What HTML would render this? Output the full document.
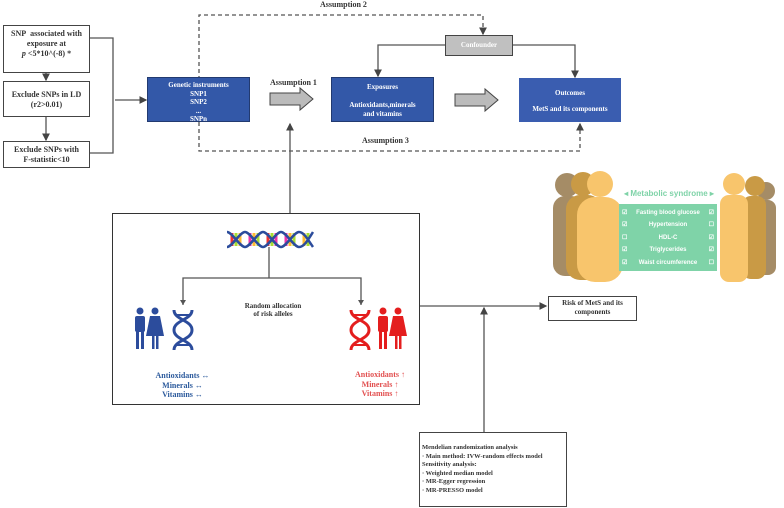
<!DOCTYPE html>
<html><head><style>
body{margin:0;width:784px;height:508px;background:#fff;position:relative;overflow:hidden;font-family:"Liberation Serif",serif;font-weight:bold}
.b{position:absolute;box-sizing:border-box;text-align:center;font-size:8px;line-height:10px}
.w{border:1.5px solid #444;background:#fff;color:#333}
.bl{background:#3358a8;border:1.5px solid #223a70;color:#fff}
.t{position:absolute;font-size:8px;color:#333}
</style></head><body>
<svg width="784" height="508" style="position:absolute;left:0;top:0">
<defs><marker id="a" markerWidth="6" markerHeight="6" refX="5" refY="3" orient="auto"><path d="M0,0L6,3L0,6z" fill="#444"/></marker></defs>
<g stroke="#555" stroke-width="1.3" fill="none">
<line x1="46" y1="73" x2="46" y2="80" marker-end="url(#a)"/>
<line x1="46" y1="117" x2="46" y2="140" marker-end="url(#a)"/>
<polyline points="90,38 113,38 113,153 90,153"/>
<line x1="115" y1="100" x2="146" y2="100" marker-end="url(#a)"/>
<polyline points="445,45 378,45 378,76" marker-end="url(#a)"/>
<polyline points="513,45 575,45 575,77" marker-end="url(#a)"/>
<g stroke-dasharray="4,3"><polyline points="199,122 199,15 483,15 483,34" marker-end="url(#a)"/>
<polyline points="199,122 199,151 580,151 580,124" marker-end="url(#a)"/></g>
<line x1="290" y1="213" x2="290" y2="124" marker-end="url(#a)"/>
<line x1="269" y1="247" x2="269" y2="278"/>
<polyline points="183,305 183,278 361,278 361,305"/>
<line x1="420" y1="306" x2="546" y2="306" marker-end="url(#a)"/>
<line x1="484" y1="432" x2="484" y2="308" marker-end="url(#a)"/>
</g>
<path d="M183,305l-3,-5h6z M361,305l-3,-5h6z" fill="#555"/>
<path d="M270,93h30v-5l13,11l-13,11v-5h-30z" fill="#bbb" stroke="#444" stroke-width="1"/>
<path d="M455,94h30v-5l13,11l-13,11v-5h-30z" fill="#bbb" stroke="#444" stroke-width="1"/>
<!-- DNA top -->
<g>
<g stroke-width="3">
<line x1="232" y1="233" x2="232" y2="246" stroke="#e33"/><line x1="236" y1="233" x2="236" y2="246" stroke="#ad3"/><line x1="240" y1="233" x2="240" y2="246" stroke="#fb3"/>
<line x1="250" y1="233" x2="250" y2="246" stroke="#e3a"/><line x1="254" y1="233" x2="254" y2="246" stroke="#fb3"/><line x1="258" y1="233" x2="258" y2="246" stroke="#ad3"/>
<line x1="268" y1="233" x2="268" y2="246" stroke="#e33"/><line x1="272" y1="233" x2="272" y2="246" stroke="#ad3"/><line x1="276" y1="233" x2="276" y2="246" stroke="#e3a"/>
<line x1="286" y1="233" x2="286" y2="246" stroke="#e3a"/><line x1="290" y1="233" x2="290" y2="246" stroke="#fb3"/><line x1="294" y1="233" x2="294" y2="246" stroke="#ad3"/>
<line x1="304" y1="233" x2="304" y2="246" stroke="#fb3"/><line x1="308" y1="233" x2="308" y2="246" stroke="#ad3"/></g>
<path d="M227,232 C232,232 240,247 245,247 C250,247 258,232 263,232 C268,232 276,247 281,247 C286,247 294,232 299,232 C304,232 308,240 313,247" stroke="#2c4c9c" stroke-width="2.5" fill="none"/>
<path d="M227,247 C232,247 240,232 245,232 C250,232 258,247 263,247 C268,247 276,232 281,232 C286,232 294,247 299,247 C304,247 308,240 313,232" stroke="#2c4c9c" stroke-width="2.5" fill="none"/>
</g>
<!-- blue dna & people -->
<g stroke="#2c4c9c" stroke-width="3" fill="none"><path d="M174,310 C174,320 192,320 192,330 C192,340 174,340 174,350 M192,310 C192,320 174,320 174,330 C174,340 192,340 192,350"/></g>
<g stroke="#2c4c9c" stroke-width="2"><line x1="176" y1="315" x2="190" y2="315"/><line x1="176" y1="345" x2="190" y2="345"/></g>
<g fill="#2c4c9c"><circle cx="140" cy="311" r="3.5"/><rect x="135" y="316" width="10" height="16" rx="2"/><rect x="136" y="330" width="3" height="19"/><rect x="141" y="330" width="3" height="19"/>
<circle cx="155" cy="311" r="3.5"/><path d="M150,316h10l4,20h-18z"/><rect x="152" y="334" width="2.5" height="15"/><rect x="156" y="334" width="2.5" height="15"/></g>
<g stroke="#e41e1e" stroke-width="3" fill="none"><path d="M351,310 C351,320 369,320 369,330 C369,340 351,340 351,350 M369,310 C369,320 351,320 351,330 C351,340 369,340 369,350"/></g>
<g stroke="#e41e1e" stroke-width="2"><line x1="353" y1="315" x2="367" y2="315"/><line x1="353" y1="345" x2="367" y2="345"/></g>
<g fill="#e41e1e"><circle cx="383" cy="311" r="3.5"/><rect x="378" y="316" width="10" height="16" rx="2"/><rect x="379" y="330" width="3" height="19"/><rect x="384" y="330" width="3" height="19"/>
<circle cx="398" cy="311" r="3.5"/><path d="M393,316h10l4,20h-18z"/><rect x="395" y="334" width="2.5" height="15"/><rect x="399" y="334" width="2.5" height="15"/></g>
<!-- people right panel -->
<g fill="#a58c66"><circle cx="567" cy="185" r="12"/><rect x="553" y="196" width="30" height="80" rx="12"/></g>
<g fill="#c99a45"><circle cx="583" cy="184" r="12"/><rect x="566" y="195" width="36" height="85" rx="14"/></g>
<g fill="#f8c56c"><circle cx="600" cy="184" r="13"/><rect x="577" y="197" width="46" height="85" rx="18"/></g>
<g fill="#a58c66"><circle cx="766" cy="191" r="9"/><rect x="756" y="200" width="20" height="75" rx="8"/></g>
<g fill="#c99a45"><circle cx="755" cy="186" r="10"/><rect x="742" y="196" width="24" height="83" rx="9"/></g>
<g fill="#f8c56c"><circle cx="734" cy="184" r="11"/><rect x="720" y="195" width="28" height="87" rx="9"/></g>
<rect x="619" y="204" width="98" height="67" fill="#7fd3a8"/>
</svg>
<div class="b w" style="left:3px;top:25px;width:87px;height:48px;padding-top:3px">SNP&nbsp; associated with exposure at<br><i>p</i> &lt;5*10^(-8) *</div>
<div class="b w" style="left:3px;top:81px;width:87px;height:36px;padding-top:8px">Exclude SNPs in LD<br>(r2&gt;0.01)</div>
<div class="b w" style="left:3px;top:141px;width:87px;height:27px;padding-top:3px">Exclude SNPs with<br>F-statistic&lt;10</div>
<div class="b bl" style="left:147px;top:77px;width:103px;height:45px;padding-top:3px;font-size:7px;line-height:8.5px">Genetic instruments<br>SNP1<br>SNP2<br>...<br>SNPn</div>
<div class="b bl" style="left:331px;top:77px;width:103px;height:45px;padding-top:5px;font-size:7px;line-height:9px">Exposures<br><br>Antioxidants,minerals<br>and vitamins</div>
<div class="b bl" style="left:519px;top:78px;width:102px;height:44px;padding-top:10px;font-size:7px;line-height:8px;background:#3a5db0;border-color:#3a5db0">Outcomes<br><br>MetS and its components</div>
<div class="b" style="left:445px;top:35px;width:68px;height:21px;background:#c0c0c0;border:1.5px solid #444;color:#fff;font-size:7px;padding-top:4px">Confounder</div>
<div class="t" style="left:320px;top:0px">Assumption 2</div>
<div class="t" style="left:270px;top:78px">Assumption 1</div>
<div class="t" style="left:362px;top:136px">Assumption 3</div>
<div class="b" style="left:112px;top:213px;width:308px;height:192px;border:1.5px solid #333"></div>
<div class="b" style="left:233px;top:302px;width:80px;font-size:7px;line-height:8px;color:#333">Random allocation<br>of risk alleles</div>
<div class="b" style="left:130px;top:371px;width:105px;color:#2c5a9c;line-height:9.5px">Antioxidants ↔<br>Minerals ↔<br>Vitamins ↔</div>
<div class="b" style="left:330px;top:370px;width:100px;color:#e25050;line-height:9.5px">Antioxidants ↑<br>Minerals ↑<br>Vitamins ↑</div>
<div class="b w" style="left:548px;top:296px;width:89px;height:25px;font-size:7px;line-height:9px;padding-top:2px">Risk of MetS and its<br>components</div>
<div class="b w" style="left:419px;top:432px;width:148px;height:75px;text-align:left;font-size:6.5px;line-height:8.5px;padding:11px 0 0 2px">Mendelian randomization analysis<br>· Main method: IVW-random effects model<br>Sensitivity analysis:<br>· Weighted median model<br>· MR-Egger regression<br>· MR-PRESSO model</div>
<div style="position:absolute;left:617px;top:189px;width:104px;text-align:center;font-family:'Liberation Sans',sans-serif;font-size:8px;color:#7fd3a8">◂ Metabolic syndrome ▸</div>
<div style="position:absolute;left:619px;top:207px;width:98px;font-family:'Liberation Sans',sans-serif;font-size:6px;color:#fff;line-height:12.4px">
<div style="display:flex;justify-content:space-between;padding:0 3px"><span>☑</span><span>Fasting blood glucose</span><span>☑</span></div>
<div style="display:flex;justify-content:space-between;padding:0 3px"><span>☑</span><span>Hypertension</span><span>☐</span></div>
<div style="display:flex;justify-content:space-between;padding:0 3px"><span>☐</span><span>HDL-C</span><span>☑</span></div>
<div style="display:flex;justify-content:space-between;padding:0 3px"><span>☑</span><span>Triglycerides</span><span>☑</span></div>
<div style="display:flex;justify-content:space-between;padding:0 3px"><span>☑</span><span>Waist circumference</span><span>☐</span></div>
</div>
</body></html>
